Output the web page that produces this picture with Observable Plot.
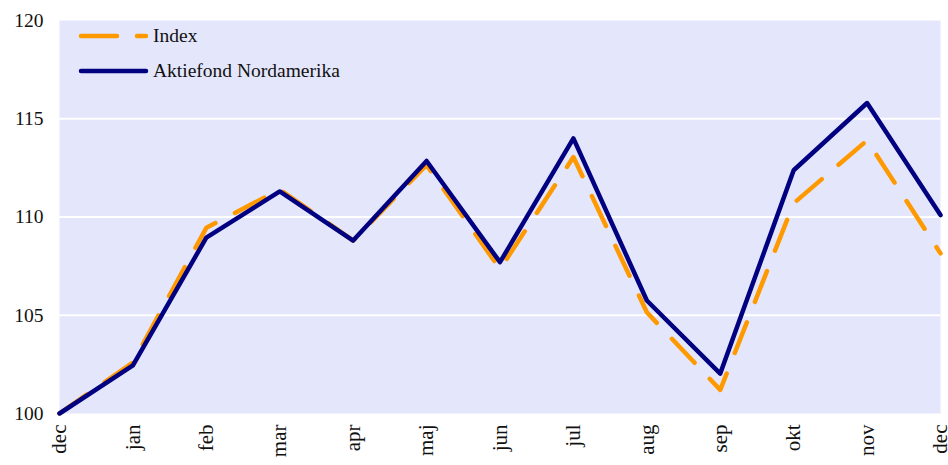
<!DOCTYPE html>
<html>
<head>
<meta charset="utf-8">
<script src="https://cdn.jsdelivr.net/npm/d3@7"></script>
<script src="https://cdn.jsdelivr.net/npm/@observablehq/plot@0.6"></script>
<style>
  html, body { margin: 0; padding: 0; background: #fff; }
  #wrap { position: relative; width: 948px; height: 465px; font-family: 'Liberation Serif', 'Times New Roman', serif; }
  #legend { position: absolute; left: 77px; top: 18px; font-size: 19.5px; color: #111; font-family: 'Liberation Serif', 'Times New Roman', serif; }
  #legend .row { display: flex; align-items: center; height: 35px; }
  #legend svg { margin-right: 4px; }
</style>
</head>
<body>
<div id="wrap">
  <div id="chart"></div>
  <div id="legend"></div>
</div>
<script>
const months = ["dec", "jan", "feb", "mar", "apr", "maj", "jun", "jul", "aug", "sep", "okt", "nov", "dec"];
const indexValues = [100, 102.6, 109.45, 111.4, 108.8, 112.65, 107.35, 113.05, 105.15, 101.2, 110.7, 113.9, 108.15];
const fundValues  = [100, 102.45, 108.95, 111.3, 108.8, 112.85, 107.7, 114.0, 105.75, 102.03, 112.38, 115.8, 110.1];
const yTicks = [100, 105, 110, 115, 120];
const gridTicks = [105, 110, 115];
const seriesNames = ["Index", "Aktiefond Nordamerika"];
const seriesColors = ["#ff9900", "#000080"];

const indexData = indexValues.map((v, i) => ({i, v}));
const fundData = fundValues.map((v, i) => ({i, v}));

const chart = Plot.plot({
  width: 948,
  height: 465,
  marginLeft: 59,
  marginRight: 8,
  marginTop: 20,
  marginBottom: 52,
  style: {fontFamily: "'Liberation Serif', 'Times New Roman', serif", fontSize: "19px", color: "#111", background: "#fff", overflow: "visible"},
  x: {type: "linear", domain: [0, months.length - 1]},
  y: {domain: [100, 120]},
  marks: [
    Plot.frame({fill: "#e4e6fb", stroke: null}),
    Plot.ruleY(gridTicks, {stroke: "#fff", strokeWidth: 2}),
    Plot.axisY({ticks: yTicks, tickSize: 0, tickPadding: 16, label: null, fontSize: 19.5}),
    Plot.axisX({ticks: d3.range(months.length), tickFormat: i => months[i], tickSize: 0, tickPadding: 11, tickRotate: -90, label: null, fontSize: 21}),
    Plot.line(indexData, {x: "i", y: "v", stroke: seriesColors[0], strokeWidth: 4.5, strokeDasharray: "33,22", strokeLinecap: "round", strokeLinejoin: "round"}),
    Plot.line(fundData, {x: "i", y: "v", stroke: seriesColors[1], strokeWidth: 4.5, strokeLinejoin: "round"})
  ]
});
document.getElementById("chart").appendChild(chart);

const legend = document.getElementById("legend");
seriesNames.forEach((name, k) => {
  const row = document.createElement("div");
  row.className = "row";
  const dash = k === 0 ? 'stroke-dasharray="36,20"' : "";
  row.innerHTML = `<svg width="72" height="10"><line x1="4" y1="5" x2="69" y2="5" stroke="${seriesColors[k]}" stroke-width="4.5" stroke-linecap="round" ${dash}/></svg><span>${name}</span>`;
  legend.appendChild(row);
});
</script>
</body>
</html>
